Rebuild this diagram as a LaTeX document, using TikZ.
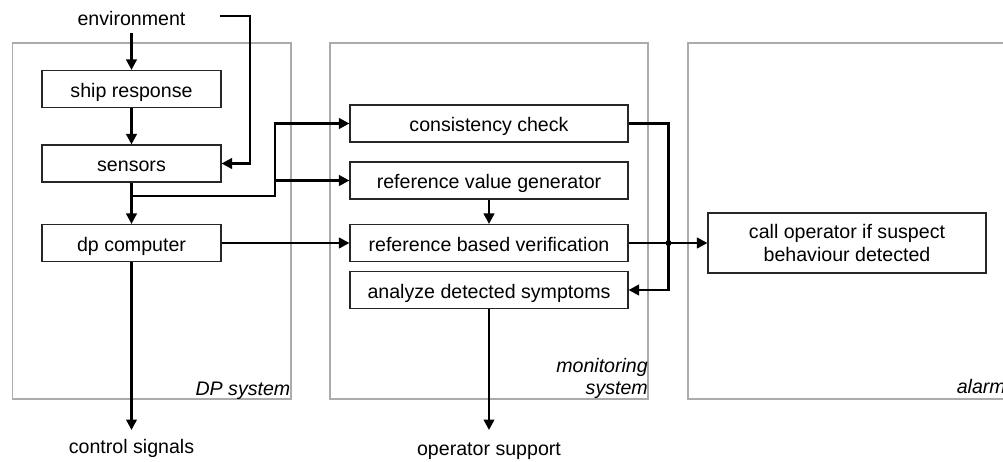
\documentclass[tikz,border=0pt]{standalone}
\usepackage{fontspec}
\setmainfont{Liberation Sans}
\usetikzlibrary{arrows.meta}
\tikzset{
  basefont/.style={font=\fontsize{19.6}{23}\selectfont, inner sep=0pt},
  box/.style={basefont, draw=black!85, line width=1.1pt, minimum height=37pt},
  onebox/.style={box, text height=18.5pt, text depth=2.5pt},
  panel/.style={draw=black!33, line width=1.1pt, minimum width=318pt, minimum height=356pt, inner sep=0pt},
  lbl/.style={basefont, text height=18.5pt, text depth=2.5pt},
  plbl/.style={inner sep=0pt, font=\fontsize{19.6}{22}\selectfont\itshape},
  arr/.style={line width=2.5pt, -{Triangle[length=10.5pt,width=10.5pt]}},
}
\begin{document}
\begin{tikzpicture}[x=1pt,y=-1pt]
\useasboundingbox (0,0) rectangle (1003,461);
\clip (0,0) rectangle (1003,461);
% panels
\node[panel, minimum width=278.3pt] (dpsys) at (151.85,221) {};
\node[panel] (monsys) at (489,221) {};
\node[panel] (alsys) at (847,221) {};
\node[plbl, anchor=base east] (dplbl) at (290.5,395) {DP system};
\node[plbl, anchor=base east, align=right] (monlbl) at (648,394) {monitoring\\system};
\node[plbl, anchor=base east] (allbl) at (1006,393) {alarm};
% boxes
\node[onebox, minimum width=179pt] (ship) at (131.5,89) {ship response};
\node[onebox, minimum width=179pt] (sensors) at (131.5,163.5) {sensors};
\node[onebox, minimum width=179pt] (dp) at (131.5,243) {dp computer};
\node[onebox, minimum width=278pt] (cons) at (489,123.5) {consistency check};
\node[onebox, minimum width=278pt] (refgen) at (489,180.5) {reference value generator};
\node[onebox, minimum width=278pt] (refver) at (489,243) {reference based verification};
\node[onebox, minimum width=278pt] (analyze) at (489,290) {analyze detected symptoms};
\node[box, minimum width=278pt, minimum height=60pt, align=center] (call) at (847,243) {call operator if suspect\\behaviour detected};
% free labels
\node[lbl, minimum height=32pt] (env) at (131.5,17) {environment};
\node[lbl, anchor=north, minimum height=30pt] (ctrl) at (131.5,430) {control signals};
\node[lbl, anchor=north, minimum height=34pt] (opsup) at (489,430) {operator support};
% coordinates
\coordinate (envR) at (220,16);
\coordinate (br) at (131.5,196);
\coordinate (j) at (275,180.5);
\coordinate (dot) at (668.5,243);
% connectors
\draw[arr] (env) -- (ship);
\draw[arr] (envR) -- ++(30,0) |- (sensors.east);
\draw[arr] (ship) -- (sensors);
\draw[arr] (sensors) -- (dp);
\draw[arr] (br) -| (j) |- (cons.west);
\draw[arr] (j) -- (refgen.west);
\draw[arr] (dp) -- (refver);
\draw[arr] (refgen) -- (refver);
\draw[arr] (cons.east) -- ++(40,0) |- (analyze.east);
\draw[arr] (refver) -- (call);
\fill (dot) circle (3pt);
\draw[arr] (dp) -- (ctrl);
\draw[arr] (analyze) -- (opsup);
\end{tikzpicture}
\end{document}
